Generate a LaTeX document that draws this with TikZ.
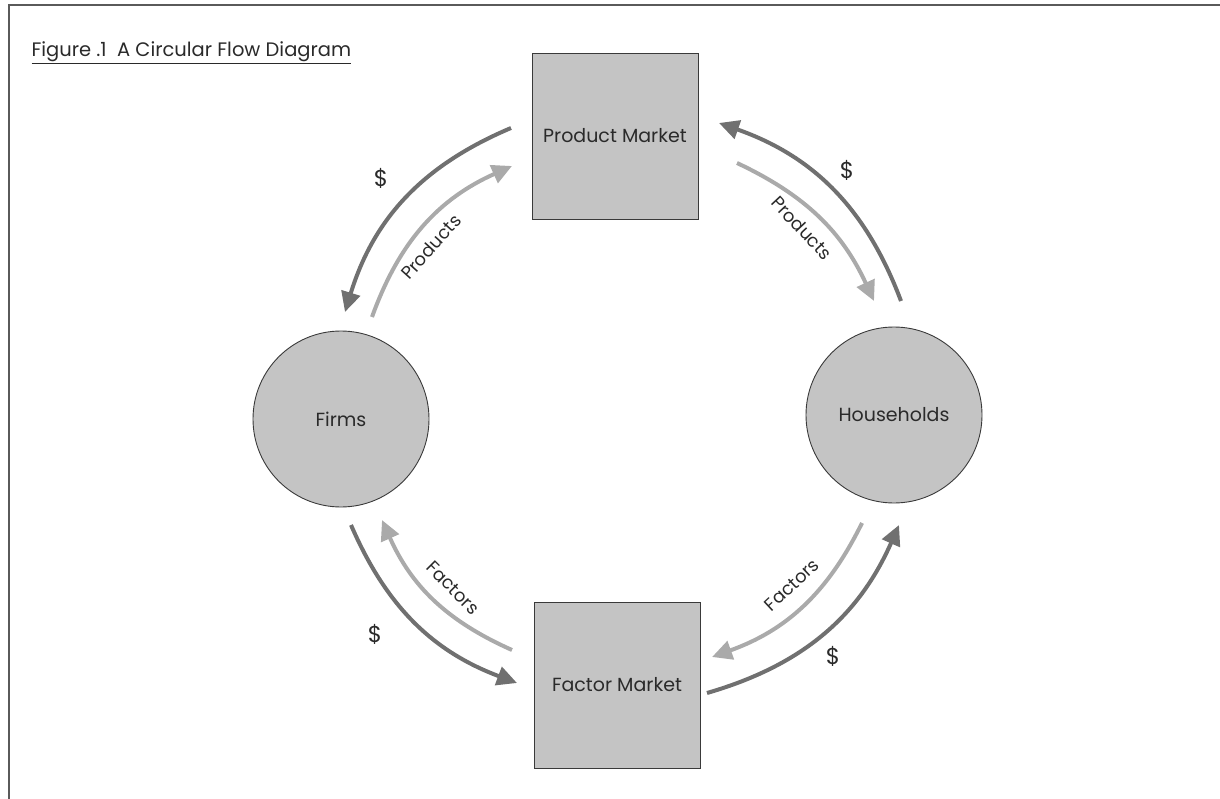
\documentclass[tikz,border=0pt]{standalone}
\usepackage{fontspec}
\setmainfont{Poppins}
\usetikzlibrary{arrows.meta}
\definecolor{boxfill}{HTML}{C4C4C4}
\definecolor{boxline}{HTML}{3A3A3A}
\definecolor{darkarrow}{HTML}{707070}
\definecolor{lightarrow}{HTML}{AAAAAA}
\definecolor{framecol}{HTML}{5A5A5A}
\definecolor{txt}{HTML}{2A2A2A}
\tikzset{
  market/.style={draw=boxline, fill=boxfill, line width=0.9pt, minimum size=166pt, inner sep=0pt, text=txt, font=\fontsize{19}{22}\selectfont},
  agent/.style={circle, draw=boxline, fill=boxfill, line width=0.9pt, minimum size=176pt, inner sep=0pt, text=txt, font=\fontsize{19}{22}\selectfont},
  money/.style={draw=darkarrow, line width=4pt, -{Triangle[length=20pt,width=19pt]}},
  goods/.style={draw=lightarrow, line width=4pt, -{Triangle[length=20pt,width=19pt]}},
  dollar/.style={text=txt, font=\fontsize{23}{26}\selectfont},
  flowlabel/.style={text=txt, font=\fontsize{18}{21}\selectfont},
}
\begin{document}
\begin{tikzpicture}[x=1pt,y=-1pt]
\useasboundingbox (0,0) rectangle (1220,799);
\draw[framecol, line width=2pt] (9,799) -- (9,5) -- (1220,5);
\node[anchor=base west, text=txt, font=\fontsize{19.5}{22}\selectfont] (title) at (28,57) {\underline{Figure .1\ \ A Circular Flow Diagram}};

\node[market] (pm) at (615,136) {Product Market};
\node[market] (fm) at (617,685) {Factor Market};
\node[agent] (firms) at (341,419) {Firms};
\node[agent] (hh) at (894,415) {Households};

% arrow end points
\coordinate (tl1) at (511,128); \coordinate (tl2) at (345,312);
\coordinate (tl3) at (372,317); \coordinate (tl4) at (512,166);
\coordinate (tr1) at (901,301); \coordinate (tr2) at (719,123);
\coordinate (tr3) at (737,163); \coordinate (tr4) at (874,301);
\coordinate (bl1) at (351,525); \coordinate (bl2) at (517,683);
\coordinate (bl3) at (512,650); \coordinate (bl4) at (382,520);
\coordinate (br1) at (862,523); \coordinate (br2) at (712,657);
\coordinate (br3) at (707,693); \coordinate (br4) at (899,525);

\draw[money] (tl1) to[bend right=25] (tl2);
\draw[goods] (tl3) to[bend left=23] (tl4);
\draw[money] (tr1) to[bend right=25] (tr2);
\draw[goods] (tr3) to[bend left=20] (tr4);
\draw[money] (bl1) to[bend right=23] (bl2);
\draw[goods] (bl3) to[bend left=21] (bl4);
\draw[goods] (br1) to[bend left=22] (br2);
\draw[money] (br3) to[bend right=25] (br4);

\node[dollar] (d1) at (381,178) {\$};
\node[dollar] (d2) at (847,170) {\$};
\node[dollar] (d3) at (375,634) {\$};
\node[dollar] (d4) at (833,656) {\$};

\node[flowlabel, rotate=48] (l1) at (431,247) {Products};
\node[flowlabel, rotate=-47] (l2) at (802,228) {Products};
\node[flowlabel, rotate=-45] (l3) at (453,588) {Factors};
\node[flowlabel, rotate=43] (l4) at (792,585) {Factors};
\end{tikzpicture}
\end{document}
